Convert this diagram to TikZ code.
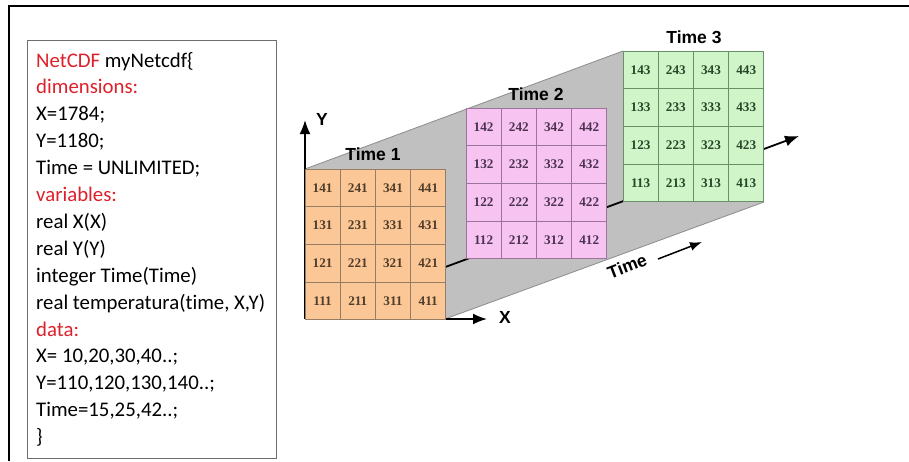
\documentclass[tikz,border=0pt]{standalone}
\usepackage{fontspec}
\setmainfont[Ligatures=NoCommon]{Carlito}
\newfontfamily\diagfont{Liberation Sans}
\newfontfamily\cellfont{Liberation Serif}
\usetikzlibrary{arrows.meta}
\definecolor{codered}{RGB}{222,32,42}
\definecolor{orangecell}{RGB}{251,199,151}
\definecolor{pinkcell}{RGB}{247,196,242}
\definecolor{greencell}{RGB}{207,245,200}
\definecolor{orangeline}{RGB}{150,125,100}
\definecolor{pinkline}{RGB}{155,115,155}
\definecolor{greenline}{RGB}{105,145,105}
\definecolor{orangetext}{RGB}{80,60,40}
\definecolor{pinktext}{RGB}{75,50,80}
\definecolor{greentext}{RGB}{40,70,40}
\definecolor{wallgray}{RGB}{192,192,192}
\definecolor{walledge}{RGB}{140,140,140}
\definecolor{boxedge}{RGB}{110,110,110}
\tikzset{
  codeline/.style={anchor=base west, inner sep=0pt, font=\fontsize{20.8}{24}\selectfont},
  cell/.style={minimum width=35.2pt, minimum height=37.7pt, inner sep=0pt, line width=0.8pt,
    font=\cellfont\bfseries\fontsize{13.2}{15}\selectfont},
  axislabel/.style={inner sep=0pt, font=\diagfont\bfseries\fontsize{17.5}{19}\selectfont},
  axisline/.style={line width=1.8pt, -{Latex[length=14pt,width=11pt]}},
}
\begin{document}
\begin{tikzpicture}[x=1pt,y=-1pt]
\useasboundingbox (0,0) rectangle (909,461);
% outer frame
\draw[line width=2.8pt] (909,6) -- (9,6) -- (9,461);
% code box
\node[draw=boxedge, line width=0.9pt, minimum width=249pt, minimum height=418pt, inner sep=0pt, anchor=north west] (codebox) at (27,40) {};
\node[codeline] (l1) at (36,67) {\textcolor{codered}{NetCDF} myNetcdf\{};
\node[codeline, text=codered] (l2) at (36,93.9) {dimensions:};
\node[codeline] (l3) at (36,120.8) {X=1784;};
\node[codeline] (l4) at (36,147.7) {Y=1180;};
\node[codeline] (l5) at (36,174.6) {Time = UNLIMITED;};
\node[codeline, text=codered] (l6) at (36,201.5) {variables:};
\node[codeline] (l7) at (36,228.4) {real X(X)};
\node[codeline] (l8) at (36,255.3) {real Y(Y)};
\node[codeline] (l9) at (36,282.2) {integer Time(Time)};
\node[codeline] (l10) at (36,309.1) {real temperatura(time, X,Y)};
\node[codeline, text=codered] (l11) at (36,336) {data:};
\node[codeline] (l12) at (36,362.9) {X= 10,20,30,40..;};
\node[codeline] (l13) at (36,389.8) {Y=110,120,130,140..;};
\node[codeline] (l14) at (36,416.7) {Time=15,25,42..;};
\node[codeline] (l15) at (36,443.6) {\}};
% gray wall and floor
\coordinate (wA) at (305,169);
\coordinate (wB) at (623,51);
\coordinate (wC) at (623,202);
\coordinate (wD) at (764,202);
\coordinate (wE) at (445,319);
\coordinate (O) at (305,319);
\fill[wallgray] (wA) -- (wB) -- (wC) -- (wD) -- (wE) -- (O) -- cycle;
\draw[walledge, line width=0.8pt] (wA) -- (wB);
\draw[walledge, line width=0.8pt] (wE) -- (wD);
% axes
\coordinate (Yend) at (305,120);
\coordinate (Xend) at (487,319);
\coordinate (Tend) at (799,136);
\draw[axisline] (O) -- (Tend);
\draw[axisline] (O) -- (Yend);
\draw[axisline] (O) -- (Xend);
% grids
\foreach \t/\ox/\oy/\fc/\lc/\tc in {1/305/169/orangecell/orangeline/orangetext,
    2/466/108/pinkcell/pinkline/pinktext, 3/623/51/greencell/greenline/greentext}{
  \foreach \c in {1,...,4}{
    \foreach \r in {1,...,4}{
      \node[cell, fill=\fc, draw=\lc, text=\tc] (t\t-\c-\r)
        at ({\ox+35.2*(\c-0.5)},{\oy+37.7*(4.5-\r)}) {\c\r\t};
    }
  }
}
% labels
\node[axislabel] (ylab) at (322,119) {Y};
\node[axislabel] (xlab) at (505,317) {X};
\node[axislabel] (time1) at (373,154) {Time 1};
\node[axislabel] (time2) at (536,94) {Time 2};
\node[axislabel] (time3) at (694,37) {Time 3};
\node[axislabel, rotate=21] (timelab) at (627,266) {Time};
\coordinate (ta) at (658,259);
\coordinate (tb) at (702,242);
\draw[line width=1.5pt, -{Latex[length=12pt,width=9pt]}] (ta) -- (tb);
\end{tikzpicture}
\end{document}
